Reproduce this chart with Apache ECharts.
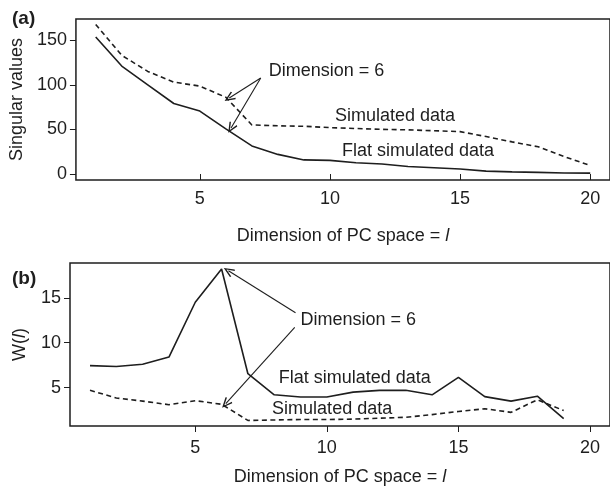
<!DOCTYPE html>
<html>
<head>
<meta charset="utf-8">
<script src="https://cdn.jsdelivr.net/npm/echarts@6/dist/echarts.min.js"></script>
<style>
  html, body { margin: 0; padding: 0; background: #fff; }
  #chart { width: 610px; height: 487px; }
</style>
</head>
<body>
<div id="chart"></div>
<script>
// panel (a): singular values
const dimsA = [1, 2, 3, 4, 5, 6, 7, 8, 9, 10, 11, 12, 13, 14, 15, 16, 17, 18, 19, 20]
const simulatedA = [167.5, 133, 115, 103, 98.5, 86, 55, 54, 53.5, 52, 51, 50, 49.5, 48.5, 47.5, 42, 36, 30.5, 19.5, 9.5]
const flatA = [153.5, 121, 100, 79, 70.5, 50.5, 31.5, 22, 15.8, 15.3, 12.7, 11.2, 8.5, 7, 5.6, 3.2, 2.4, 1.8, 1.1, 1]

// panel (b): W(l)
const dimsB = [1, 2, 3, 4, 5, 6, 7, 8, 9, 10, 11, 12, 13, 14, 15, 16, 17, 18, 19]
const flatB = [7.45, 7.35, 7.6, 8.4, 14.5, 18.2, 6.55, 4.2, 3.95, 3.95, 4.5, 4.7, 4.7, 4.2, 6.15, 4.0, 3.5, 4.05, 1.55]
const simulatedB = [4.7, 3.85, 3.5, 3.1, 3.55, 3.15, 1.35, 1.4, 1.45, 1.45, 1.5, 1.6, 1.7, 2.0, 2.35, 2.65, 2.25, 3.65, 2.45]

const xTicks = [5, 10, 15, 20]
const yTicksA = [0, 50, 100, 150]
const yTicksB = [5, 10, 15]

// annotations (data coordinates)
const arrowsA = [[[7.34, 107.6], [6.13, 85.2]], [[7.34, 107.6], [6.2, 51.5]]]
const textsA = [
  { text: 'Dimension = 6', at: [7.65, 115.4] },
  { text: 'Simulated data', at: [10.19, 65] },
  { text: 'Flat simulated data', at: [10.46, 25.8] },
]
const arrowsB = [[[8.81, 13.33], [6.26, 18.0]], [[8.78, 11.7], [6.16, 3.21]]]
const textsB = [
  { text: 'Dimension = 6', at: [9.0, 12.54] },
  { text: 'Flat simulated data', at: [8.17, 6.03] },
  { text: 'Simulated data', at: [7.92, 2.6] },
]

const ink = '#1e1e1e'
const font = 'Liberation Sans, Arial, sans-serif'
const arrowHead = 'path://M0,0 L5,10 L3.7,10.9 L0,3.2 L-3.7,10.9 L-5,10 Z'

const pairs = (xs, ys) => xs.map((x, i) => [x, ys[i]])

function xAxisOf(gridIndex, margin, nameGap) {
  return {
    type: 'value',
    gridIndex,
    min: 0.24,
    max: 20.76,
    name: 'Dimension of PC space = {i|l}',
    nameLocation: 'middle',
    nameGap,
    nameTextStyle: { color: ink, fontSize: 18, fontFamily: font, rich: { i: { fontStyle: 'italic', fontSize: 18, fontFamily: font, color: ink } } },
    axisLine: { show: false },
    axisTick: { show: true, length: 6, lineStyle: { color: ink, width: 1 }, customValues: xTicks },
    axisLabel: { color: ink, fontSize: 18, fontFamily: font, margin, customValues: xTicks },
    splitLine: { show: false },
  }
}

function yAxisOf(gridIndex, min, max, ticks, name, nameGap) {
  return {
    type: 'value',
    gridIndex,
    min,
    max,
    name,
    nameLocation: 'middle',
    nameGap,
    nameTextStyle: { color: ink, fontSize: 18, fontFamily: font, rich: { i: { fontStyle: 'italic', fontSize: 18, fontFamily: font, color: ink } } },
    axisLine: { show: false },
    axisTick: { show: true, length: 6, lineStyle: { color: ink, width: 1 }, customValues: ticks },
    axisLabel: { color: ink, fontSize: 18, fontFamily: font, margin: 9, customValues: ticks },
    splitLine: { show: false },
  }
}

function annotations(arrows, texts) {
  return {
    markLine: {
      silent: true,
      animation: false,
      symbol: ['none', arrowHead],
      symbolSize: [9, 11],
      lineStyle: { color: ink, width: 1.1, type: 'solid' },
      label: { show: false },
      data: arrows.map(([a, b]) => [{ coord: a }, { coord: b }]),
    },
    markPoint: {
      silent: true,
      animation: false,
      symbol: 'circle',
      symbolSize: 0,
      label: { show: true, position: 'right', distance: 0, color: ink, fontSize: 18, fontFamily: font, formatter: (p) => p.name },
      data: texts.map((t) => ({ name: t.text, coord: t.at })),
    },
  }
}

const lineBase = { type: 'line', symbol: 'none', silent: true, animation: false }

const option = {
  backgroundColor: '#ffffff',
  animation: false,
  title: [
    { text: '(a)', left: 7, top: 4, textStyle: { fontSize: 19, fontWeight: 'bold', color: ink, fontFamily: font } },
    { text: '(b)', left: 7, top: 264, textStyle: { fontSize: 19, fontWeight: 'bold', color: ink, fontFamily: font } },
  ],
  grid: [
    { left: 73, top: 19, width: 540, height: 161, show: true, borderColor: ink, borderWidth: 1.5, backgroundColor: 'transparent' },
    { left: 70, top: 263, width: 543, height: 163, show: true, borderColor: ink, borderWidth: 1.5, backgroundColor: 'transparent' },
  ],
  xAxis: [xAxisOf(0, 10, 47), xAxisOf(1, 13, 42)],
  yAxis: [
    yAxisOf(0, -6.7, 173.7, yTicksA, 'Singular values', 43),
    yAxisOf(1, 0.73, 18.87, yTicksB, 'W({i|l})', 41),
  ],
  series: [
    { ...lineBase, name: 'Simulated data', xAxisIndex: 0, yAxisIndex: 0, data: pairs(dimsA, simulatedA),
      lineStyle: { color: ink, width: 1.6, type: [5, 3.5] } },
    { ...lineBase, name: 'Flat simulated data', xAxisIndex: 0, yAxisIndex: 0, data: pairs(dimsA, flatA),
      lineStyle: { color: ink, width: 1.6 }, ...annotations(arrowsA, textsA) },
    { ...lineBase, name: 'Flat simulated data', xAxisIndex: 1, yAxisIndex: 1, data: pairs(dimsB, flatB),
      lineStyle: { color: ink, width: 1.6 }, ...annotations(arrowsB, textsB) },
    { ...lineBase, name: 'Simulated data', xAxisIndex: 1, yAxisIndex: 1, data: pairs(dimsB, simulatedB),
      lineStyle: { color: ink, width: 1.6, type: [5, 3.5] } },
  ],
}

const chart = echarts.init(document.getElementById('chart'), null, { renderer: 'canvas' })
chart.setOption(option)
</script>
</body>
</html>
